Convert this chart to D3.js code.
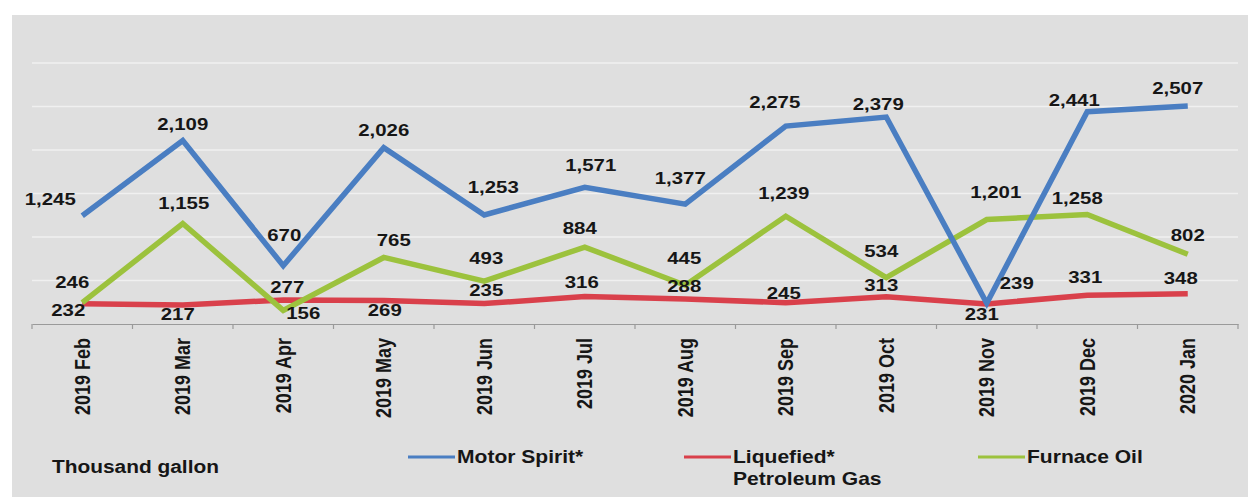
<!DOCTYPE html>
<html>
<head>
<meta charset="utf-8">
<script src="https://cdn.jsdelivr.net/npm/d3@7"></script>
<style>
  html, body { margin: 0; padding: 0; background: #ffffff; }
  svg { display: block; }
  text { font-family: "Liberation Sans", Arial, sans-serif; font-weight: bold; fill: #161616; }
</style>
</head>
<body>
<svg id="chart" width="1248" height="497"></svg>
<script>
// ---- data ----
const months = ["2019 Feb","2019 Mar","2019 Apr","2019 May","2019 Jun","2019 Jul","2019 Aug","2019 Sep","2019 Oct","2019 Nov","2019 Dec","2020 Jan"];
const motorSpirit = [1245, 2109, 670, 2026, 1253, 1571, 1377, 2275, 2379, 239, 2441, 2507];
const lpg         = [232, 217, 277, 269, 235, 316, 288, 245, 313, 231, 331, 348];
const furnaceOil  = [246, 1155, 156, 765, 493, 884, 445, 1239, 534, 1201, 1258, 802];
const seriesNames = ["Motor Spirit*", "Liquefied*\nPetroleum Gas", "Furnace Oil"];
const unitLabel = "Thousand gallon";
const gridTicks = [500, 1000, 1500, 2000, 2500, 3000];

// label placement offsets (layout only)
const msOff  = [[-32,-17],[0,-16],[1,-31],[0,-18],[9,-28],[6,-22],[-5,-26],[-11,-24],[-8,-13],[30,-20],[-13,-12],[-10,-18]];
const lpgOff = [[-14,6],[-5,9],[4,-13],[1,9],[2,-14],[-3,-14],[-1,-13],[-2,-10],[-5,-12],[-5,10],[-2,-18],[-7,-16]];
const foOff  = [[-10,-21],[1,-20],[20,3],[10,-17],[2,-23],[-5,-19],[-1,-27],[-2,-23],[-5,-26],[9,-27],[-10,-17],[0,-19]];

const colors = ["#4a7ec2", "#d9404b", "#9cc23d"];

const svg = d3.select("#chart");
// background panel
svg.append("rect").attr("x", 12).attr("y", 15).attr("width", 1236).attr("height", 482).attr("fill", "#dfdfdf");

const x = d3.scaleBand().domain(months).range([32, 1238]).padding(0);
const y = d3.scaleLinear().domain([0, 3000]).range([324, 63]);

// gridlines
svg.append("g").selectAll("line").data(gridTicks).join("line")
  .attr("x1", 32).attr("x2", 1238)
  .attr("y1", d => y(d)).attr("y2", d => y(d))
  .attr("stroke", "#ffffff").attr("stroke-width", 1.5).attr("opacity", 0.55);

// x axis
const xAxis = svg.append("g").attr("transform", `translate(0,${y(0)})`)
  .call(d3.axisBottom(x).tickSize(0).tickFormat(""));
xAxis.select(".domain").attr("stroke", "#9a9a9a").attr("stroke-width", 1.2);
// boundary ticks
const bounds = months.map(m => x(m)).concat([x.range()[1]]);
svg.append("g").selectAll("line").data(bounds).join("line")
  .attr("x1", d => d).attr("x2", d => d)
  .attr("y1", y(0)).attr("y2", y(0) + 5)
  .attr("stroke", "#9a9a9a").attr("stroke-width", 1.2);

// x labels
svg.append("g").selectAll("text").data(months).join("text")
  .attr("transform", d => `translate(${x(d) + x.bandwidth()/2},338) scale(1.2,1) rotate(-90)`)
  .attr("text-anchor", "end")
  .attr("dy", "0.35em")
  .style("font-size", "18px")
  .text(d => d);

const series = [
  {vals: motorSpirit, off: msOff, color: colors[0]},
  {vals: lpg, off: lpgOff, color: colors[1]},
  {vals: furnaceOil, off: foOff, color: colors[2]}
];
const drawOrder = [1, 2, 0];
const line = d3.line().x((d, i) => x(months[i]) + x.bandwidth()/2).y(d => y(d));

drawOrder.forEach(k => {
  const s = series[k];
  svg.append("path").datum(s.vals)
    .attr("d", line)
    .attr("fill", "none")
    .attr("stroke", s.color)
    .attr("stroke-width", 5.5)
    .attr("stroke-linejoin", "miter");
});

const fmt = d3.format(",");
series.forEach(s => {
  svg.append("g").selectAll("text").data(s.vals).join("text")
    .attr("transform", (d, i) => `translate(${x(months[i]) + x.bandwidth()/2 + s.off[i][0]},${y(d) + s.off[i][1]}) scale(1.2,1)`)
    .attr("text-anchor", "middle")
    .attr("dy", "0.35em")
    .style("font-size", "17px")
    .text(d => fmt(d));
});

// unit label
svg.append("text")
  .attr("transform", "translate(52,473) scale(1.16,1)")
  .style("font-size", "18px")
  .text(unitLabel);

// legend
const legendX = [408, 684, 978];
seriesNames.forEach((name, k) => {
  const g = svg.append("g");
  g.append("line")
    .attr("x1", legendX[k]).attr("x2", legendX[k] + 47)
    .attr("y1", 457).attr("y2", 457)
    .attr("stroke", colors[k]).attr("stroke-width", 3);
  const t = g.append("text")
    .attr("transform", `translate(${legendX[k] + 49},463) scale(1.17,1)`)
    .style("font-size", "18px");
  name.split("\n").forEach((ln, j) => {
    t.append("tspan").attr("x", 0).attr("y", j * 22).text(ln);
  });
});
</script>
</body>
</html>
